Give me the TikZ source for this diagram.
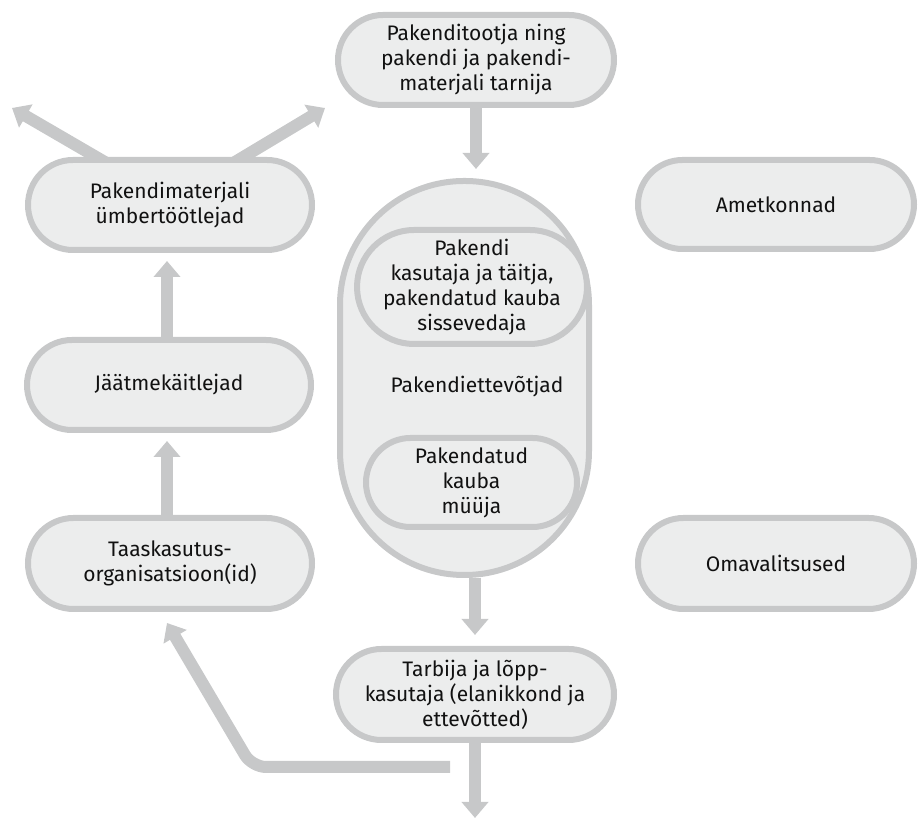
\documentclass[tikz,border=0pt]{standalone}
\usepackage{fontspec}
\setmainfont{Fira Sans}
\usetikzlibrary{arrows.meta,shapes.misc,backgrounds,calc}
\definecolor{bord}{HTML}{C7C8C9}
\definecolor{boxfill}{HTML}{ECEDED}
\definecolor{txt}{HTML}{111111}
\begin{document}
\begin{tikzpicture}[x=1pt,y=1pt,
  pill/.style={shape=rounded rectangle, draw=bord, fill=boxfill, line width=6pt, text=txt, align=center, font=\fontsize{21}{25}\selectfont, inner sep=0pt},
  arr/.style={draw=bord, line width=12pt, -{Triangle[width=26pt,length=16pt]}},
  lbl/.style={text=txt, font=\fontsize{21}{25}\selectfont, inner sep=0pt}]
\useasboundingbox (0,0) rectangle (919,818);
% outer nodes
\node[pill, minimum width=276pt, minimum height=90pt] (top) at (476,758) {Pakenditootja ning\\pakendi ja pakendi-\\materjali tarnija};
\node[pill, minimum width=284pt, minimum height=90pt] (pm) at (170,613) {Pakendimaterjali\\ümbertöötlejad};
\node[pill, minimum width=284pt, minimum height=90pt] (jk) at (169,433) {Jäätmekäitlejad};
\node[pill, minimum width=284pt, minimum height=91pt] (tk) at (170,254.5) {Taaskasutus-\\organisatsioon(id)};
\node[pill, minimum width=276pt, minimum height=89pt] (am) at (776,613.5) {Ametkonnad};
\node[pill, minimum width=276pt, minimum height=91pt] (om) at (776,254.5) {Omavalitsused};
\node[pill, minimum width=278pt, minimum height=91pt] (tb) at (475,123.5) {Tarbija ja lõpp-\\kasutaja (elanikkond ja\\ettevõtted)};
% big group
\node[draw=bord, fill=boxfill, line width=6pt, rectangle, rounded corners=124pt, minimum width=249pt, minimum height=394pt] (big) at (464.5,440) {};
\node[pill, minimum width=214pt, minimum height=114pt] (in1) at (472,531) {Pakendi\\kasutaja ja täitja,\\pakendatud kauba\\sissevedaja};
\node[pill, minimum width=211pt, minimum height=89pt] (in2) at (471.5,335.5) {Pakendatud\\kauba\\müüja};
\node[lbl] (grp) at (477,431) {Pakendiettevõtjad};
% free ends
\coordinate (ul) at (12,710);
\coordinate (ur) at (325,710);
\coordinate (bottomend) at (475,0);
\coordinate (bs) at (450,51);
\coordinate (bc) at (252,51);
\begin{scope}[on background layer]
\draw[arr] (top.south) -- ($(top.south |- big.north)+(0,9)$);
\draw[arr] (big.south -| tb.north) -- ($(tb.north)+(0,11)$);
\draw[arr] (tb.south) -- (bottomend);
\draw[arr, rounded corners=14pt] (bs) -- (bc) -- ($(tk.south)+(-3,-11)$);
\draw[arr] ($(jk.north)+(-2,0)$) -- ($(pm.south)+(-3,-8)$);
\draw[arr] ($(tk.north)+(-3,0)$) -- ($(jk.south)+(-2,-8)$);
\draw[arr] ($(pm.north)+(-60,-8)$) -- (ul);
\draw[arr] ($(pm.north)+(60,-8)$) -- (ur);
\end{scope}
\end{tikzpicture}
\end{document}
